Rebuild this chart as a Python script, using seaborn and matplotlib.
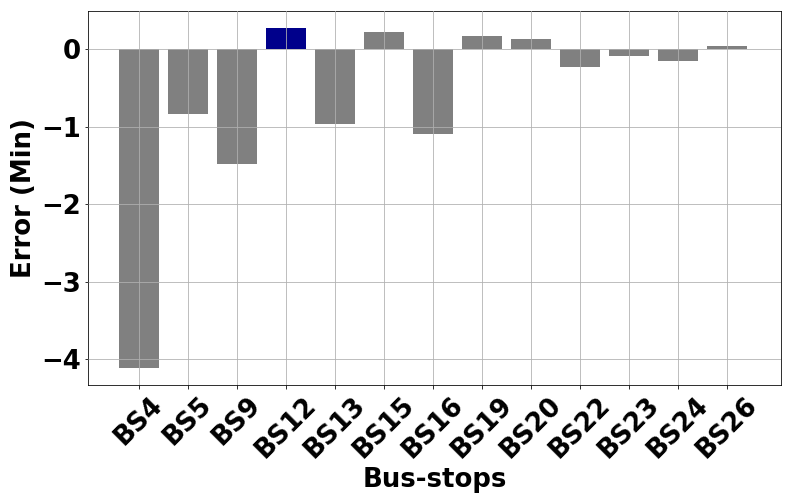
import pandas as pd
import numpy as np
import matplotlib
matplotlib.use("Agg")
import matplotlib.pyplot as plt
import seaborn as sns

stops = ['BS4', 'BS5', 'BS9', 'BS12', 'BS13', 'BS15', 'BS16',
         'BS19', 'BS20', 'BS22', 'BS23', 'BS24', 'BS26']
errors = [-4.11, -0.84, -1.48, 0.27, -0.96, 0.22, -1.09,
          0.17, 0.13, -0.23, -0.085, -0.15, 0.04]
highlight = 'BS12'

df = pd.DataFrame({'stop': stops, 'error': errors})
df['group'] = np.where(df['stop'] == highlight, 'best', 'other')
palette = {'best': '#00008b', 'other': '#808080'}

fig = plt.figure(figsize=(11, 7), dpi=72)
ax = fig.add_subplot(111)
fig.subplots_adjust(left=88/792, right=781/792, top=1-11/504, bottom=1-385/504)

sns.barplot(data=df, x='stop', y='error', hue='group', palette=palette,
            dodge=False, width=0.8, saturation=1, legend=False, ax=ax)

ax.set_xlim(-1.04, 13.1)
ax.set_ylim(-4.33, 0.49)
ax.grid(True, color='#b0b0b0', linewidth=0.8)
ax.set_axisbelow(False)

ax.set_xlabel('Bus-stops', fontsize=26, fontweight='bold')
ax.set_ylabel('Error (Min)', fontsize=26, fontweight='bold')
plt.setp(ax.get_xticklabels(), rotation=45, fontsize=26, fontweight='bold')
plt.setp(ax.get_yticklabels(), fontsize=26, fontweight='bold')

plt.savefig('out.png', dpi=72)
